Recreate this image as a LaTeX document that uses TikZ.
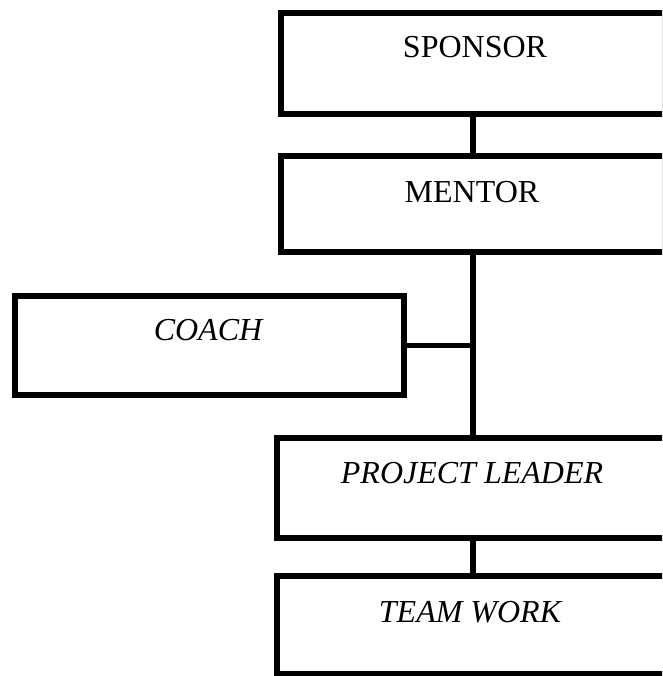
\documentclass[tikz,border=0pt]{standalone}
\usepackage{fontspec}
\setmainfont{Liberation Serif}
\begin{document}
\begin{tikzpicture}[x=1pt,y=-1pt,
  box/.style={draw=black,line width=5.5pt,rectangle,inner sep=0pt},
  lbl/.style={inner sep=0pt,font=\fontsize{32}{36}\selectfont},
  conn/.style={draw=black,line width=5.5pt}]
\useasboundingbox (0,0) rectangle (662,676);
\clip (0,0) rectangle (662,676);
\fill[white] (0,0) rectangle (662,676);
\node[box,minimum width=384pt,minimum height=101pt] (sp) at (473,63.5) {};
\node[box,minimum width=384pt,minimum height=96pt] (me) at (473,204) {};
\node[box,minimum width=389pt,minimum height=99pt] (co) at (209.5,345.5) {};
\node[box,minimum width=392pt,minimum height=100pt] (pl) at (473,488) {};
\node[box,minimum width=392pt,minimum height=98pt] (tw) at (473,625) {};
\node[lbl] (tsp) at (475,47) {SPONSOR};
\node[lbl] (tme) at (472,192) {MENTOR};
\node[lbl] (tco) at (208,330) {\itshape COACH};
\node[lbl] (tpl) at (472,473) {\itshape PROJECT LEADER};
\node[lbl] (ttw) at (470,612) {\itshape TEAM WORK};
\draw[conn] (sp.south) -- (me.north);
\draw[conn] (me.south) -- (pl.north);
\draw[conn] (pl.south) -- (tw.north);
\draw[conn] (co.east) -- (co.east -| me.south);
\end{tikzpicture}
\end{document}
